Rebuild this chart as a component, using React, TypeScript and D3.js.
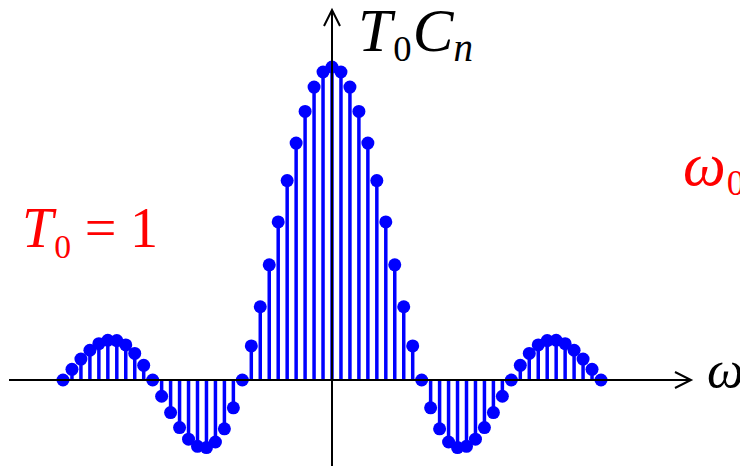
import React, { useLayoutEffect, useRef } from "react";
import * as d3 from "d3";

// Harmonic index n of each spectral line (ω = n·ω0)
const harmonics: number[] = d3.range(-30, 31);

// T0·Cn for n = -30 … 30
const coefficients: number[] = [
  0.0, 0.034, 0.067, 0.095, 0.116, 0.127, 0.126, 0.112, 0.085, 0.047,
  0.0, -0.052, -0.104, -0.152, -0.189, -0.212, -0.216, -0.198, -0.156, -0.089,
  0.0, 0.109, 0.234, 0.368, 0.505, 0.637, 0.757, 0.858, 0.936, 0.984,
  1.0,
  0.984, 0.936, 0.858, 0.757, 0.637, 0.505, 0.368, 0.234, 0.109, 0.0,
  -0.089, -0.156, -0.198, -0.216, -0.212, -0.189, -0.152, -0.104, -0.052, 0.0,
  0.047, 0.085, 0.112, 0.126, 0.127, 0.116, 0.095, 0.067, 0.034, 0.0,
];

const W = 740;
const H = 466;
const BLUE = "#0000ff";
const RED = "#ff0000";
const SERIF = '"Liberation Serif", "DejaVu Serif", serif';

// Scales a label group so its ink starts at `left`, spans `width`, and sits on `baseline`.
function useFit(left: number, width: number, baseline: number) {
  const ref = useRef<SVGGElement>(null);
  useLayoutEffect(() => {
    const g = ref.current;
    if (!g) return;
    const inner = g.firstElementChild as SVGGraphicsElement | null;
    if (!inner) return;
    const bb = inner.getBBox();
    if (!bb.width) return;
    const s = width / bb.width;
    g.setAttribute(
      "transform",
      `translate(${left},${baseline}) scale(${s}) translate(${-bb.x},0)`
    );
  });
  return ref;
}

export default function App() {
  const x = d3.scaleLinear().domain([-30, 30]).range([63, 601]);
  const y = d3.scaleLinear().domain([0, 1]).range([380, 67]);
  const x0 = x(0);
  const y0 = y(0);

  const axisLeft = 9;
  const axisRight = 691;
  const axisTop = 10;
  const arrowLen = 16;
  const arrowHalf = 8;

  const yLabel = useFit(358, 115, 51);
  const xLabel = useFit(707, 37, 387);
  const periodLabel = useFit(22, 136, 247);
  const freqLabel = useFit(683, 62, 185);

  return (
    <svg
      width={W}
      height={H}
      viewBox={`0 0 ${W} ${H}`}
      style={{ position: "absolute", left: 0, top: 0, background: "#fff" }}
    >
      {/* stems */}
      <g>
        {harmonics.map((n, i) => (
          <line
            key={`s${n}`}
            x1={x(n)}
            x2={x(n)}
            y1={y0}
            y2={y(coefficients[i])}
            stroke={BLUE}
            strokeWidth={3.5}
          />
        ))}
      </g>
      {/* stem heads */}
      <g>
        {harmonics.map((n, i) => (
          <circle
            key={`c${n}`}
            cx={x(n)}
            cy={y(coefficients[i])}
            r={6.5}
            fill={BLUE}
          />
        ))}
      </g>

      {/* axes */}
      <g stroke="#000" strokeWidth={2} fill="none">
        <line x1={axisLeft} x2={axisRight} y1={y0} y2={y0} />
        <polyline
          points={`${axisRight - arrowLen},${y0 - arrowHalf} ${axisRight},${y0} ${axisRight - arrowLen},${y0 + arrowHalf}`}
        />
        <line x1={x0} x2={x0} y1={H} y2={axisTop} />
        <polyline
          points={`${x0 - arrowHalf},${axisTop + arrowLen} ${x0},${axisTop} ${x0 + arrowHalf},${axisTop + arrowLen}`}
        />
      </g>

      {/* vertical axis label T0·Cn */}
      <g ref={yLabel}>
        <text x={0} y={0} fill="#000" fontFamily={SERIF} fontSize={50}>
          <tspan fontStyle="italic">T</tspan>
          <tspan fontSize={30} dx={1} dy={8}>0</tspan>
          <tspan fontStyle="italic" dx={1} dy={-8}>C</tspan>
          <tspan fontStyle="italic" fontSize={32} dy={8}>n</tspan>
        </text>
      </g>

      {/* horizontal axis label */}
      <g ref={xLabel}>
        <text x={0} y={0} fill="#000" fontFamily={SERIF} fontSize={50} fontStyle="italic">
          ω
        </text>
      </g>

      {/* period annotation */}
      <g ref={periodLabel}>
        <text x={0} y={0} fill={RED} fontFamily={SERIF} fontSize={50}>
          <tspan fontStyle="italic">T</tspan>
          <tspan fontSize={30} dx={1} dy={10}>0</tspan>
          <tspan dx={12} dy={-10}>=</tspan>
          <tspan dx={12}>1</tspan>
        </text>
      </g>

      {/* fundamental frequency annotation */}
      <g ref={freqLabel}>
        <text x={0} y={0} fill={RED} fontFamily={SERIF} fontSize={50}>
          <tspan fontStyle="italic">ω</tspan>
          <tspan fontSize={30} dx={1} dy={8}>0</tspan>
        </text>
      </g>
    </svg>
  );
}
